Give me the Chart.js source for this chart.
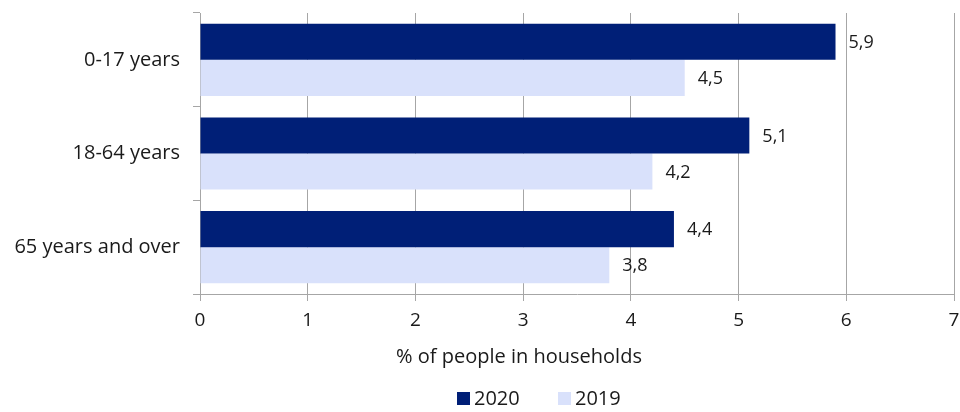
<!DOCTYPE html>
<html>
<head>
<meta charset="utf-8">
<script src="https://cdn.jsdelivr.net/npm/chart.js@4"></script>
<style>
  html, body { margin: 0; padding: 0; background: #fff; }
  #wrap { width: 960px; height: 412px; }
</style>
</head>
<body>
<div id="wrap"><canvas id="grafico" width="960" height="412"></canvas></div>
<script>
// dados
const categorias = ['0-17 years', '18-64 years', '65 years and over'];
const valores2020 = [5.9, 5.1, 4.4];
const valores2019 = [4.5, 4.2, 3.8];
const ticksX = [0, 1, 2, 3, 4, 5, 6, 7];
const tituloX = '% of people in households';

const corEscura = '#001f77';
const corClara = '#d9e1fb';
const corGrade = '#a6a6a6';
const corTexto = '#1a1a1a';
const fonte = "'Open Sans', 'Noto Sans', sans-serif";

// rótulos de valor à direita das barras
const rotulosBarras = {
    id: 'rotulosBarras',
    afterDatasetsDraw(chart) {
        const ctx = chart.ctx;
        ctx.save();
        ctx.font = '18px ' + fonte;
        ctx.fillStyle = corTexto;
        ctx.textBaseline = 'middle';
        ctx.textAlign = 'left';
        chart.data.datasets.forEach((ds, i) => {
            chart.getDatasetMeta(i).data.forEach((bar, j) => {
                const txt = ds.data[j].toFixed(1).replace('.', ',');
                ctx.fillText(txt, bar.x + 13, bar.y + 1);
            });
        });
        ctx.restore();
    }
};

// título do eixo X e legenda desenhados à mão (posição igual à figura)
const tituloELegenda = {
    id: 'tituloELegenda',
    afterDraw(chart) {
        const ctx = chart.ctx;
        ctx.save();
        ctx.fillStyle = corTexto;
        ctx.font = '20px ' + fonte;
        ctx.textBaseline = 'middle';
        ctx.textAlign = 'center';
        ctx.fillText(tituloX, 519, 357);

        ctx.textAlign = 'left';
        const posicoes = [457, 558];
        chart.data.datasets.forEach((ds, i) => {
            const x = posicoes[i];
            ctx.fillStyle = ds.backgroundColor;
            ctx.fillRect(x, 392, 13, 13);
            ctx.fillStyle = corTexto;
            ctx.fillText(ds.label, x + 17, 399);
        });
        ctx.restore();
    }
};

const ctx = document.getElementById('grafico').getContext('2d');

new Chart(ctx, {
    type: 'bar',
    data: {
        labels: categorias,
        datasets: [
            {
                label: '2020',
                data: valores2020,
                backgroundColor: corEscura,
                borderWidth: 0,
                barPercentage: 1,
                categoryPercentage: 0.77
            },
            {
                label: '2019',
                data: valores2019,
                backgroundColor: corClara,
                borderWidth: 0,
                barPercentage: 1,
                categoryPercentage: 0.77
            }
        ]
    },
    options: {
        indexAxis: 'y',
        responsive: false,
        animation: false,
        layout: {
            padding: { top: 13, right: 6, left: 0, bottom: 0 }
        },
        scales: {
            x: {
                min: 0,
                max: 7,
                afterBuildTicks(scale) {
                    scale.ticks = ticksX.map(v => ({ value: v }));
                },
                afterFit(scale) {
                    scale.height = 118;
                    scale.paddingLeft = 0;
                    scale.paddingRight = 0;
                },
                grid: {
                    color: corGrade,
                    lineWidth: 1,
                    tickLength: 7,
                    drawTicks: true
                },
                border: { color: corGrade, width: 1 },
                ticks: {
                    color: corTexto,
                    font: { family: fonte, size: 19 },
                    padding: 8
                }
            },
            y: {
                afterFit(scale) {
                    scale.width = 200;
                    scale.paddingTop = 0;
                    scale.paddingBottom = 0;
                },
                grid: {
                    drawOnChartArea: false,
                    drawTicks: true,
                    tickLength: 7,
                    color: corGrade
                },
                border: { color: corGrade, width: 1 },
                ticks: {
                    color: corTexto,
                    font: { family: fonte, size: 20 },
                    padding: 13
                }
            }
        },
        plugins: {
            legend: { display: false },
            tooltip: { enabled: false }
        }
    },
    plugins: [rotulosBarras, tituloELegenda]
});
</script>
</body>
</html>
